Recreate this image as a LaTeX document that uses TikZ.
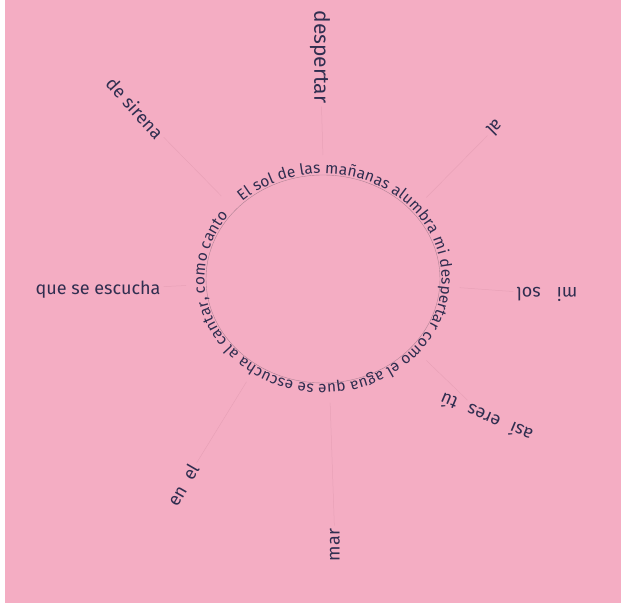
\documentclass[tikz,border=0pt]{standalone}
\usepackage{fontspec}
\setmainfont{Fira Sans}
\usetikzlibrary{decorations.text}

\definecolor{paper}{RGB}{244,173,195}
\definecolor{ink}{RGB}{48,46,80}
\definecolor{pencil}{RGB}{232,162,184}
\definecolor{rimgray}{RGB}{175,130,148}

\begin{document}
\begin{tikzpicture}[
    x=1pt, y=1pt,
    ray/.style={font=\fontsize{18}{18}\selectfont, text=ink, inner sep=1pt},
    rayline/.style={draw=pencil, line width=0.5pt, shorten >=2pt, shorten <=2pt},
    rim/.style={draw=rimgray, line width=0.4pt}
]

% ============ Paper ============
\fill[white] (0,0) rectangle (621,603);
\fill[paper] (5,0) rectangle (621,603);
\useasboundingbox (0,0) rectangle (621,603);

% ============ Sun ============
\coordinate (c) at (323,324);
\draw[rim] (c) ellipse[x radius=117, y radius=104];
\path[decorate, decoration={text along path, raise=1.5pt, text align=fit to path,
    text={|\fontsize{15.5}{15.5}\selectfont\color{ink}|El sol de las mañanas alumbra mi despertar como el agua que se escucha al cantar, como canto}}]
    ([shift={(c)}]133:117 and 104) arc[start angle=133, end angle=-217, x radius=117, y radius=104];

% ============ Rays ============
\node[ray, font=\fontsize{21}{21}\selectfont, rotate=-90] (despertar) at (320,546) {despertar};
\node[ray, rotate=225] (al) at (495,475) {al};
\node[ray, rotate=180] (misol) at (547,309) {mi\hspace{16pt}sol};
\node[ray, rotate=157] (asi) at (486,185) {así\hspace{12pt}eres\hspace{12pt}tú};
\node[ray, rotate=90] (mar) at (335,58) {mar};
\node[ray, rotate=60] (enel) at (183,118) {en\hspace{10pt}el};
\node[ray] (escucha) at (98,313) {que se escucha};
\node[ray, rotate=-48] (sirena) at (135,495) {de sirena};

% ============ Pencil lines ============
\coordinate (rN)  at ([shift={(c)}]90:135 and 122);
\coordinate (rNE) at ([shift={(c)}]41:135 and 122);
\coordinate (rE)  at ([shift={(c)}]-4:135 and 122);
\coordinate (rSE) at ([shift={(c)}]-41:135 and 122);
\coordinate (rS)  at ([shift={(c)}]-87:135 and 122);
\coordinate (rSW) at ([shift={(c)}]-124:135 and 122);
\coordinate (rW)  at ([shift={(c)}]183:135 and 122);
\coordinate (rNW) at ([shift={(c)}]138:135 and 122);
\draw[rayline] (despertar) -- (rN);
\draw[rayline] (al) -- (rNE);
\draw[rayline] (misol) -- (rE);
\draw[rayline] (asi) -- (rSE);
\draw[rayline] (mar) -- (rS);
\draw[rayline] (enel) -- (rSW);
\draw[rayline] (escucha) -- (rW);
\draw[rayline] (sirena) -- (rNW);

\end{tikzpicture}
\end{document}
